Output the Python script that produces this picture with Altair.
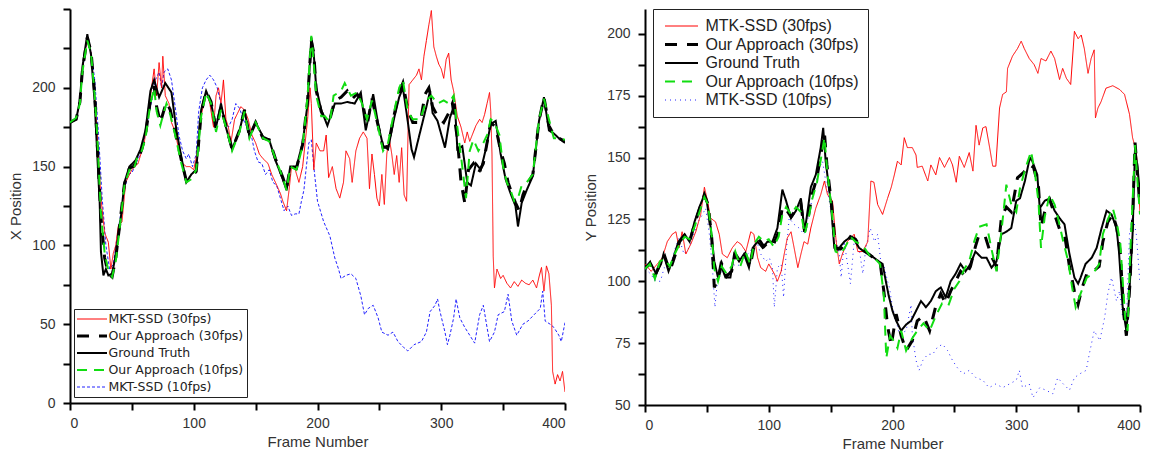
import altair as alt
import pandas as pd

# ---------------- LEFT PANEL (X Position) ----------------
L_NAMES = ["MKT-SSD (30fps)", "Our Approach (30fps)", "Ground Truth", "Our Approach (10fps)", "MKT-SSD (10fps)"]

L_GT_F = [0, 5, 8, 10, 14, 17, 20, 22, 24, 25, 27, 29, 31, 34, 37, 41, 44, 48, 53, 57, 61, 65, 68, 72, 77, 82, 86, 90, 94, 98, 102, 106, 110, 114, 118, 122, 126, 131, 137, 141, 145, 150, 156, 161, 166, 172, 175, 178, 183, 188, 192, 195, 197, 199, 203, 208, 214, 219, 224, 230, 235, 239, 245, 249, 253, 257, 262, 266, 269, 272, 276, 278, 282, 288, 291, 293, 297, 303, 307, 311, 313, 317, 321, 324, 328, 332, 336, 340, 344, 348, 352, 356, 360, 362, 365, 369, 374, 379, 383, 387, 391, 395, 400]
L_GT_V = [178, 180, 192, 213, 234, 221, 190, 158, 127, 96, 81, 85, 81, 82, 94, 117, 140, 150, 154, 161, 173, 198, 205, 194, 203, 197, 173, 156, 140, 145, 148, 186, 198, 190, 175, 190, 175, 161, 173, 186, 169, 178, 169, 167, 154, 142, 135, 150, 150, 165, 190, 232, 221, 200, 186, 176, 190, 190, 191, 190, 197, 173, 196, 177, 163, 161, 181, 194, 200, 184, 161, 156, 169, 188, 198, 184, 179, 162, 181, 190, 161, 163, 140, 138, 152, 148, 161, 177, 179, 158, 142, 133, 125, 112, 127, 135, 144, 179, 194, 173, 171, 168, 165]

L_OA10_F = [0, 5, 8, 10, 14, 17, 20, 22, 25, 28, 31, 34, 37, 40, 44, 48, 51, 54, 58, 61, 65, 68, 70, 73, 76, 78, 81, 85, 90, 94, 98, 102, 106, 110, 114, 118, 122, 126, 131, 137, 141, 145, 150, 156, 161, 166, 172, 175, 178, 183, 188, 192, 195, 196, 199, 203, 206, 210, 213, 219, 222, 227, 232, 236, 240, 244, 249, 253, 257, 262, 266, 269, 273, 277, 283, 288, 292, 297, 302, 306, 310, 313, 317, 320, 323, 326, 330, 334, 337, 340, 343, 347, 350, 353, 356, 359, 362, 365, 369, 374, 379, 383, 387, 391, 395, 400]
L_OA10_V = [178, 181, 190, 210, 230, 222, 195, 170, 120, 95, 84, 80, 90, 110, 138, 148, 147, 155, 160, 168, 190, 200, 185, 176, 185, 190, 183, 170, 152, 140, 142, 148, 182, 197, 190, 172, 186, 175, 160, 172, 185, 168, 178, 168, 166, 155, 143, 135, 150, 148, 163, 195, 233, 225, 195, 182, 182, 178, 195, 198, 203, 195, 197, 190, 180, 192, 175, 160, 165, 185, 200, 205, 185, 180, 180, 192, 195, 190, 192, 190, 195, 175, 150, 130, 160, 167, 160, 165, 170, 180, 178, 170, 150, 140, 135, 128, 130, 138, 140, 145, 180, 193, 180, 168, 168, 167]

L_OA30_F = [0, 5, 8, 10, 14, 17, 20, 22, 25, 28, 31, 34, 37, 40, 44, 48, 51, 54, 58, 61, 65, 68, 70, 73, 76, 78, 81, 85, 90, 94, 98, 102, 106, 110, 114, 118, 122, 126, 131, 137, 141, 145, 150, 156, 161, 166, 172, 175, 178, 183, 188, 192, 195, 197, 199, 203, 206, 210, 214, 219, 224, 228, 232, 236, 240, 244, 249, 253, 257, 262, 266, 269, 273, 277, 283, 287, 290, 293, 297, 302, 306, 309, 313, 316, 319, 322, 326, 330, 334, 337, 340, 344, 348, 351, 354, 357, 360, 363, 366, 369, 374, 379, 383, 387, 391, 395, 400]
L_OA30_V = [178, 180, 191, 211, 232, 223, 196, 165, 118, 92, 82, 80, 92, 112, 139, 149, 150, 153, 161, 170, 192, 201, 188, 178, 186, 191, 186, 172, 154, 141, 143, 147, 184, 198, 191, 174, 188, 176, 161, 173, 186, 169, 178, 168, 167, 155, 143, 136, 150, 149, 164, 192, 230, 222, 198, 185, 180, 180, 192, 194, 198, 193, 196, 192, 176, 193, 176, 162, 163, 183, 197, 203, 186, 178, 178, 196, 200, 188, 182, 178, 184, 190, 168, 140, 127, 148, 152, 146, 152, 165, 178, 175, 160, 152, 140, 133, 127, 122, 132, 138, 145, 179, 194, 176, 170, 168, 166]

L_MK30_F = [0, 5, 8, 10, 14, 17, 20, 22, 25, 28, 31, 33, 35, 37, 39, 42, 45, 50, 55, 60, 65, 68, 70, 72, 74, 75, 77, 80, 82, 85, 88, 91, 94, 97, 100, 103, 106, 110, 113, 116, 118, 120, 122, 124, 126, 128, 130, 133, 138, 141, 144, 147, 150, 153, 156, 160, 163, 166, 170, 172, 175, 177, 179, 182, 185, 188, 190, 192, 194, 195, 197, 199, 202, 205, 207, 209, 212, 215, 218, 221, 223, 226, 228, 231, 234, 237, 240, 242, 244, 246, 248, 250, 252, 254, 256, 258, 260, 262, 264, 266, 268, 270, 272, 274, 277, 280, 282, 284, 286, 288, 290, 292, 294, 296, 298, 300, 302, 304, 306, 308, 310, 313, 316, 319, 321, 323, 325, 328, 331, 333, 335, 337, 339, 340, 341, 342, 343, 345, 348, 350, 353, 356, 359, 362, 365, 368, 371, 374, 377, 379, 381, 383, 385, 387, 389, 390, 392, 394, 396, 398, 400]
L_MK30_V = [178, 180, 191, 212, 232, 222, 195, 170, 130, 108, 102, 85, 95, 100, 112, 115, 140, 148, 152, 165, 195, 212, 195, 216, 200, 220, 195, 190, 178, 172, 160, 152, 150, 150, 148, 160, 182, 198, 190, 175, 195, 200, 190, 205, 180, 175, 165, 180, 188, 186, 180, 170, 165, 158, 155, 152, 145, 140, 133, 128, 122, 135, 150, 148, 140, 150, 165, 180, 200, 190, 148, 165, 160, 160, 170, 143, 150, 136, 130, 140, 160, 155, 140, 160, 168, 172, 168, 136, 158, 145, 130, 125, 145, 126, 158, 168, 158, 145, 157, 140, 162, 132, 128, 202, 205, 208, 212, 205, 220, 230, 240, 249, 226, 220, 215, 212, 206, 218, 222, 205, 198, 182, 175, 165, 172, 166, 170, 176, 180, 178, 183, 190, 197, 185, 158, 93, 73, 85, 79, 81, 76, 73, 77, 74, 78, 76, 75, 78, 73, 80, 86, 71, 87, 82, 62, 20, 12, 18, 14, 20, 7]

L_MK10_F = [0, 5, 8, 10, 14, 17, 20, 23, 26, 29, 32, 35, 38, 41, 44, 47, 50, 54, 58, 62, 66, 69, 72, 74, 76, 79, 82, 85, 88, 91, 94, 96, 99, 102, 104, 107, 110, 113, 116, 119, 122, 125, 128, 131, 134, 137, 140, 143, 146, 149, 152, 155, 158, 161, 164, 167, 170, 173, 176, 179, 182, 185, 187, 189, 191, 193, 195, 197, 200, 205, 210, 214, 217, 219, 223, 227, 231, 235, 238, 241, 245, 249, 252, 257, 261, 265, 270, 273, 278, 284, 288, 291, 295, 297, 299, 303, 305, 307, 310, 312, 315, 319, 323, 327, 331, 334, 337, 339, 343, 346, 351, 354, 357, 361, 366, 370, 375, 380, 382, 384, 388, 391, 395, 397, 400]
L_MK10_V = [178, 180, 191, 210, 232, 223, 205, 171, 130, 100, 85, 88, 105, 120, 135, 145, 146, 153, 160, 175, 192, 205, 210, 200, 210, 212, 205, 188, 170, 160, 155, 158, 150, 158, 185, 200, 205, 208, 205, 200, 190, 180, 175, 180, 190, 187, 180, 175, 172, 160, 153, 152, 145, 148, 140, 138, 130, 122, 125, 119, 120, 120, 128, 135, 150, 165, 167, 150, 128, 115, 106, 92, 85, 79, 81, 82, 79, 68, 56, 60, 62, 54, 45, 43, 45, 39, 35, 33, 37, 39, 45, 58, 62, 66, 58, 45, 37, 43, 54, 66, 54, 48, 43, 38, 56, 62, 48, 39, 45, 56, 58, 69, 52, 43, 50, 52, 56, 60, 71, 52, 50, 48, 43, 39, 51]

# ---------------- RIGHT PANEL (Y Position) ----------------
R_NAMES = ["MTK-SSD (30fps)", "Our Approach (30fps)", "Ground Truth", "Our Approach (10fps)", "MTK-SSD (10fps)"]

R_GT_F = [0, 5, 9, 13, 15, 19, 23, 27, 32, 36, 40, 44, 48, 50, 53, 56, 59, 61, 65, 69, 72, 76, 80, 84, 87, 91, 95, 99, 103, 107, 111, 114, 118, 122, 126, 129, 131, 134, 138, 142, 144, 146, 150, 153, 157, 161, 165, 169, 173, 177, 181, 185, 189, 192, 195, 197, 200, 203, 207, 211, 215, 219, 223, 227, 231, 235, 239, 243, 247, 251, 255, 259, 263, 267, 272, 276, 280, 284, 288, 292, 296, 300, 303, 307, 311, 313, 317, 319, 323, 327, 331, 335, 339, 343, 347, 350, 352, 356, 361, 365, 369, 373, 377, 381, 383, 386, 389, 391, 394, 396, 398, 400]
R_GT_V = [105.5, 107, 103, 107, 111, 104, 109.5, 116, 119, 116, 124, 130, 135, 132, 122, 108, 101.5, 107, 101.5, 101.5, 111, 108, 111, 105.5, 113.5, 116, 113.5, 116, 116, 121.5, 137, 132.5, 125.5, 128.5, 133.5, 120, 127, 138, 143, 154, 162, 148.5, 132.5, 113.5, 113.5, 116, 117.5, 117, 113.5, 112, 111, 109.5, 108, 107, 99, 94, 88, 84, 80, 82.5, 84, 88, 92, 89.5, 92, 96, 97.5, 93.5, 100, 103, 107, 104, 107, 112, 109.5, 109.5, 105.5, 108, 119, 120, 121.5, 132.5, 133.5, 140.5, 150, 148.5, 143, 129.5, 132.5, 133.5, 128.5, 125.5, 123, 111, 101.5, 99, 101.5, 107, 109.5, 113.5, 121.5, 128.5, 127, 121.5, 112, 89.5, 80, 92, 119, 154, 146, 135]

R_OA10_F = [0, 4, 8, 12, 16, 20, 24, 28, 32, 36, 40, 44, 48, 51, 54, 56, 59, 62, 66, 70, 73, 77, 81, 85, 88, 92, 96, 100, 104, 108, 111, 114, 118, 122, 126, 129, 132, 135, 139, 143, 145, 147, 151, 154, 158, 162, 166, 170, 174, 178, 182, 186, 190, 193, 195, 198, 201, 204, 207, 211, 216, 220, 225, 230, 235, 240, 245, 250, 254, 258, 262, 266, 270, 276, 280, 284, 288, 292, 296, 300, 303, 307, 312, 315, 318, 320, 323, 327, 331, 334, 338, 342, 345, 348, 352, 357, 362, 367, 370, 374, 378, 381, 384, 388, 390, 392, 394, 396, 398, 400]
R_OA10_V = [105, 107, 101, 108, 109, 106, 111, 115, 118, 117, 122, 128, 134, 131, 118, 105, 100, 106, 103, 106, 112, 106, 112, 107, 115, 118, 116, 117, 114, 118, 127, 130, 127, 130, 128, 119, 125, 133, 140, 152, 158, 146, 128, 112, 111, 114, 118, 116, 115, 113, 110, 109, 107, 94, 69, 78, 76, 73, 80, 72, 77, 80, 83, 80, 86, 91, 90, 97, 100, 105, 108, 116, 122, 123, 113, 104, 120, 139, 131, 128, 137.5, 145, 152.5, 144, 132, 113.5, 126, 135, 131, 125, 116, 108, 98, 89.5, 95, 101.5, 103, 107, 119, 125, 129.5, 124, 116, 85, 80, 110, 132, 155, 140, 127]

R_OA30_F = [0, 4, 8, 12, 16, 20, 24, 28, 32, 36, 40, 44, 48, 51, 54, 56, 59, 62, 66, 70, 73, 77, 81, 85, 88, 92, 96, 100, 104, 108, 111, 114, 118, 122, 126, 129, 132, 135, 139, 143, 145, 147, 151, 154, 158, 162, 166, 170, 174, 178, 182, 186, 190, 193, 196, 199, 203, 207, 211, 216, 220, 225, 230, 235, 239, 243, 247, 251, 255, 259, 263, 267, 270, 275, 280, 284, 288, 292, 296, 301, 306, 311, 314, 318, 320, 323, 327, 331, 335, 339, 343, 347, 350, 353, 357, 362, 367, 370, 374, 378, 381, 384, 387, 389, 392, 394, 396, 398, 400]
R_OA30_V = [105, 107.5, 102, 107, 110, 104, 110, 116, 118.5, 116, 123, 129, 135, 131, 117, 97.5, 101, 107, 102, 104, 111, 108, 111, 106, 114, 117, 114, 116, 115, 120, 130, 129, 126, 129, 131, 120, 126, 135, 142, 154, 160, 147, 130, 113, 113, 115, 118, 117, 114, 112, 110.5, 109, 107.5, 96, 82, 74, 86.7, 78, 72, 76, 84, 86, 80, 90, 95, 91, 96, 100, 104, 102, 106, 114, 119, 118, 110, 106, 125.7, 130, 128, 141.8, 144, 147, 146, 138, 122, 128, 133, 127, 121, 119, 106, 96, 90.7, 97, 103, 104, 106, 116, 124, 127, 122, 112, 86, 78, 100, 125, 156, 143, 130]

R_MK30_F = [0, 5, 10, 14, 18, 22, 25, 27.5, 30, 33, 37, 41, 45, 48, 50.5, 53, 57, 60, 62.5, 66.5, 70.5, 74.5, 77.5, 81.5, 85.5, 88, 91, 93.5, 97.5, 100, 104.5, 107, 110, 112.5, 115, 118, 120.5, 123.5, 126, 128.5, 131.5, 134, 138, 142, 145, 147.5, 151.5, 154.5, 157, 159.5, 163.5, 169, 172, 176, 180, 182.5, 185, 188, 192, 196, 199, 201.5, 204, 207, 209.5, 212, 216, 219, 220, 224, 228.5, 231, 235, 238, 242, 246, 248.5, 251.5, 254, 258, 262, 265, 267.5, 270, 273, 275.5, 278.5, 281, 283.5, 286.5, 289, 292, 293, 297, 301, 304, 306.5, 310.5, 314.5, 317.5, 320, 324, 328, 331, 335, 337.5, 340.5, 344, 347, 350, 352.5, 355, 358, 360.5, 363, 364, 366, 368.5, 372.5, 378, 383.5, 387.5, 391.5, 394, 397, 399, 400]
R_MK30_V = [107, 104, 107, 109.5, 116, 119, 120, 113.5, 120, 111, 115, 120, 127, 138, 132.5, 125.5, 124, 119, 111, 109.5, 113.5, 116, 115, 112, 120, 119, 109.5, 105.5, 104, 107, 103, 100, 104, 111, 117.5, 120, 113.5, 105.5, 111, 116, 115, 121.5, 129.5, 135, 140.5, 135, 132.5, 116, 107, 111, 116, 119, 112, 112, 116, 140.5, 140, 131, 127, 133.5, 138, 143, 148.5, 147, 158, 154, 154, 151, 146, 146.5, 140.5, 147, 143, 150, 146, 150, 147, 140, 150.5, 146, 152, 144.5, 163, 155, 162, 162.5, 154, 146.5, 146.5, 170, 175.5, 176.5, 186, 191, 194, 197, 194, 190, 187.5, 184, 190, 189, 193, 190, 181.5, 186, 182, 179.5, 201, 198, 199.5, 194, 184, 190, 193.5, 166, 170, 172.5, 178, 179, 177.5, 175.5, 167.5, 158, 152.5, 138, 128]

R_MK10_F = [0, 4.5, 8.5, 12.5, 15.5, 19.5, 23.5, 27.5, 31.5, 35.5, 39.5, 43.5, 46.5, 49, 52, 54.5, 56.5, 58.5, 62.5, 66.5, 70.5, 74.5, 79, 83, 87, 91, 93.5, 97.5, 100.5, 103, 104.5, 107, 110, 112, 114, 116.5, 120.5, 124.5, 128.5, 132.5, 137, 141, 143.5, 146, 150, 153.5, 157, 158.5, 161, 166, 169, 173, 176, 178.5, 182, 185.5, 188, 190.5, 193.5, 196, 197.5, 200, 203, 205.5, 211, 215, 216, 219, 221.5, 224.5, 228.5, 232.5, 236.5, 240.5, 244.5, 248.5, 252.5, 257, 262, 267.5, 273, 278, 283.5, 289, 294.5, 300, 302.5, 305, 310.5, 313.5, 319, 324, 329.5, 333.5, 338, 343, 347, 351, 356.5, 359, 363, 367.5, 371.5, 374, 377, 381, 383.5, 386, 389, 391.5, 394, 397, 400]
R_MK10_V = [105, 103, 100, 100, 105.5, 104, 112, 117.5, 111, 113.5, 119, 124.5, 127, 129.5, 119, 105.5, 89.5, 100, 104, 101.5, 107, 106, 108, 111, 113.5, 115, 111, 108, 109.5, 105.5, 89.5, 105.5, 107, 93.5, 111, 125.5, 123, 121.5, 119, 127, 138, 146, 148.5, 140.5, 129.5, 119, 111, 101.5, 116, 99, 116, 113.5, 103, 113.5, 121.5, 116, 119, 108, 105.5, 100, 97.5, 89.5, 84, 78.5, 80, 90.5, 78.5, 68, 64, 68, 70.5, 70.5, 73.5, 74.5, 72, 68, 65, 62.5, 64, 61, 60, 57, 58.5, 57, 58.5, 60, 64, 57, 58.5, 53, 57, 56, 54.5, 61, 58.5, 56, 61, 62.5, 64, 70.5, 80, 76, 85.5, 95, 101.5, 92, 96, 85.5, 84, 119, 127, 119, 99]

# ---------------- styles ----------------
L_COLORS = ["#ff0000", "#000000", "#000000", "#11dd11", "#2222ff"]
L_DASHES = [[1, 0], [12, 10], [1, 0], [10, 7], [3, 2]]
L_WIDTHS = [1, 3, 2, 2, 1]
R_COLORS = ["#ff0000", "#000000", "#000000", "#11dd11", "#2222ff"]
R_DASHES = [[1, 0], [12, 10], [1, 0], [10, 7], [1, 4]]
R_WIDTHS = [1, 3, 2, 2, 1]

FONT = "Liberation Sans"


def build_df(names, series):
    rows = []
    for name, (fr, vals) in zip(names, series):
        for f, v in zip(fr, vals):
            rows.append({"frame": f, "value": v, "series": name})
    return pd.DataFrame(rows)


def order_names(names):
    # drawing order: MKT-SSD 10fps, MKT-SSD 30fps, Ground Truth, Our Approach 30, Our Approach 10
    return [names[4], names[0], names[2], names[1], names[3]]


left_df = build_df(L_NAMES, [(L_MK30_F, L_MK30_V), (L_OA30_F, L_OA30_V), (L_GT_F, L_GT_V), (L_OA10_F, L_OA10_V), (L_MK10_F, L_MK10_V)])
right_df = build_df(R_NAMES, [(R_MK30_F, R_MK30_V), (R_OA30_F, R_OA30_V), (R_GT_F, R_GT_V), (R_OA10_F, R_OA10_V), (R_MK10_F, R_MK10_V)])


def panel(df, names, colors, dashes, widths, ytitle, ydomain, yvals, ylabel_mod, legend, width, height):
    order_map = {n: i for i, n in enumerate(order_names(names))}
    df = df.copy()
    df["z"] = df["series"].map(order_map)
    df = df.sort_values(["z", "frame"])
    return alt.Chart(df).mark_line(clip=True).encode(
        x=alt.X("frame:Q", scale=alt.Scale(domain=[0, 400], nice=False, zero=False),
                axis=alt.Axis(values=list(range(0, 401, 50)),
                              labelExpr="datum.value % 100 === 0 ? datum.label : ''",
                              title="Frame Number")),
        y=alt.Y("value:Q", scale=alt.Scale(domain=ydomain, nice=False, zero=False),
                axis=alt.Axis(values=yvals,
                              labelExpr=ylabel_mod,
                              title=ytitle)),
        color=alt.Color("series:N", scale=alt.Scale(domain=names, range=colors), legend=legend),
        strokeDash=alt.StrokeDash("series:N", scale=alt.Scale(domain=names, range=dashes), legend=legend),
        strokeWidth=alt.StrokeWidth("series:N", scale=alt.Scale(type="ordinal", domain=names, range=widths), legend=legend),
        order=alt.Order("frame:Q"),
    ).properties(width=width, height=height)


left_legend = alt.Legend(orient="none", legendX=4, legendY=300, title=None, symbolType="stroke",
                         symbolSize=900, symbolOffset=-1.5, labelOffset=0, labelFontSize=12.5,
                         labelFont="DejaVu Sans", labelColor="#222222", strokeColor="#222222", fillColor="white",
                         padding=3, rowPadding=3, clipHeight=14, labelLimit=300)
right_legend = alt.Legend(orient="none", legendX=8, legendY=0, title=None, symbolType="stroke",
                          symbolSize=1089, symbolOffset=2.5, labelOffset=6, labelFontSize=16,
                          labelFont=FONT, labelColor="#222222", strokeColor="#222222", fillColor="white",
                          padding=8, rowPadding=0.5, clipHeight=18, labelLimit=300)

left = panel(left_df, L_NAMES, L_COLORS, L_DASHES, L_WIDTHS, "X Position", [0, 250],
             list(range(0, 251, 25)),
             "datum.value % 50 === 0 && datum.value < 250 ? datum.label : ''",
             left_legend, 495, 394)
right = panel(right_df, R_NAMES, R_COLORS, R_DASHES, R_WIDTHS, "Y Position", [50, 210],
              [50 + 12.5 * i for i in range(13)],
              "datum.value % 25 === 0 ? datum.label : ''",
              right_legend, 495, 396)

chart = alt.hconcat(left, right, spacing=17).resolve_scale(
    color="independent", strokeDash="independent", strokeWidth="independent"
).resolve_legend(
    color="independent", strokeDash="independent", strokeWidth="independent"
).properties(
    padding={"left": 0, "top": 0, "right": 5, "bottom": 0}
).configure_view(stroke=None).configure_axis(
    grid=False, domainColor="black", domainWidth=2, tickColor="black", tickWidth=2, tickSize=7,
    labelFont=FONT, labelFontSize=14, labelColor="#333333",
    titleFont=FONT, titleFontSize=15, titleFontWeight="normal", titleColor="#333333"
).configure_axisX(labelPadding=6, titlePadding=4).configure_axisY(labelPadding=8, titlePadding=8)

chart.save("out.html", embed_options={"renderer": "svg", "actions": False})
